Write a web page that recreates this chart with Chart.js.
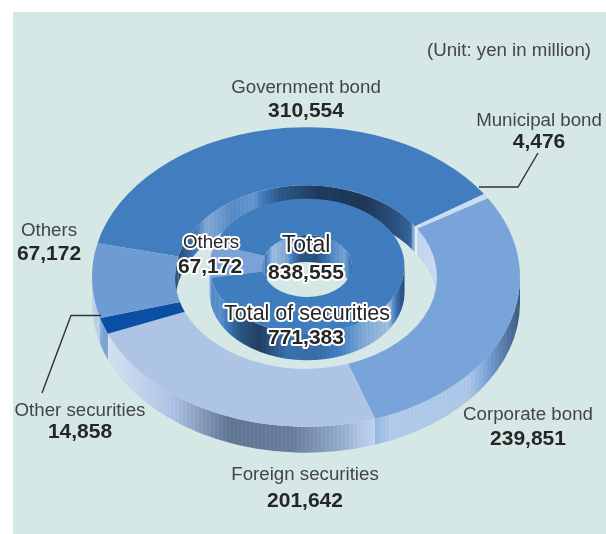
<!DOCTYPE html>
<html>
<head>
<meta charset="utf-8">
<title>Securities breakdown</title>
<script src="https://cdn.jsdelivr.net/npm/chart.js@4/dist/chart.umd.min.js"></script>
<style>
html,body{margin:0;padding:0;background:#fff;}
#wrap{position:relative;width:606px;height:534px;overflow:hidden;}
#panel{position:absolute;left:13px;top:12px;right:0;bottom:0;background:#d5e8e6;}
canvas{position:absolute;left:0;top:0;}
</style>
</head>
<body>
<div id="wrap">
  <div id="panel"></div>
  <canvas id="outerRing" width="606" height="534"></canvas>
  <canvas id="innerRing" width="606" height="534"></canvas>
</div>
<script>
// Outer ring: what the total is made of
const outerNames = ["Government bond","Municipal bond","Corporate bond","Foreign securities","Other securities","Others"];
const outerValues = [310554,4476,239851,201642,14858,67172];
const outerColors = ["#427dbf","#c8dcf2","#79a4d9","#aec4e5","#0a4fa5","#6e9bd2"];

// Inner ring: securities vs. the rest
const innerNames = ["Others","Total of securities"];
const innerValues = [67172,771383];
const innerColors = ["#7aa2d8","#3f7dbf"];
const totalValue = 838555;

const unitText = "(Unit: yen in million)";

// Metal look of the side walls, [position across the ring, lighten(+)/darken(-)]
const outerRimShade = [[0,.55],[.08,.35],[.2,-.05],[.32,-.5],[.47,-.45],[.6,-.1],[.7,.42],[.88,.38],[.94,-.15],[1,-.6]];
const outerHoleShade = [[0,-.7],[.05,-.3],[.12,.35],[.22,.1],[.3,.2],[.4,-.45],[.55,-.8],[.72,-.85],[.85,-.5],[.9,-.3],[.91,.5],[1,.6]];
const innerRimShade = [[0,.1],[.06,.15],[.16,-.5],[.26,-.75],[.4,-.15],[.55,-.2],[.68,.05],[.8,.35],[.92,.5],[.97,-.3],[1,-.6]];
const innerHoleShade = [[0,-.3],[.12,.5],[.28,.3],[.42,-.45],[.6,-.55],[.78,.1],[.92,.3],[1,-.2]];

const fmt = v => v.toLocaleString("en-US");

function hexToRgb(hex){
    const n = parseInt(hex.slice(1),16);
    return [n>>16,(n>>8)&255,n&255];
}

function shadeAt(profile,t){
    for(let i=1;i<profile.length;i++){
        if(t<=profile[i][0]){
            const [t0,s0]=profile[i-1], [t1,s1]=profile[i];
            return s0+(s1-s0)*(t-t0)/(t1-t0);
        }
    }
    return profile[profile.length-1][1];
}

// Vertical stripes across the wall, one band every 2px
function wallGradient(ctx,base,left,right,profile){
    const g = ctx.createLinearGradient(left,0,right,0);
    const rgb = hexToRgb(base), dark = [22,42,68];
    const steps = Math.round((right-left)/2);
    for(let i=0;i<=steps;i++){
        const t = i/steps;
        const s = shadeAt(profile,t)+(i%2?.035:-.035);
        const to = s>0?[255,255,255]:dark, a = Math.min(Math.abs(s),1);
        const c = rgb.map((v,k)=>Math.round(v+(to[k]-v)*a));
        g.addColorStop(t,`rgb(${c[0]},${c[1]},${c[2]})`);
    }
    return g;
}

// Fills the wall of one slice between the rim ellipse and the same ellipse lowered by depth
function drawWall(ctx,cx,cy,rx,ry,depth,a0,a1,fill){
    ctx.beginPath();
    ctx.ellipse(cx,cy,rx,ry,0,a0,a1);
    ctx.ellipse(cx,cy+depth,rx,ry,0,a1,a0,true);
    ctx.closePath();
    ctx.fillStyle=fill;
    ctx.fill();
}

function overlap(a0,a1,from,to){
    const parts=[];
    for(let k=-2;k<=2;k++){
        const s=Math.max(a0,from+k*Math.PI*2), e=Math.min(a1,to+k*Math.PI*2);
        if(e>s) parts.push([s,e]);
    }
    return parts;
}

// Squashes a doughnut into an ellipse and gives it a thickness
const ring3d = {
    id:"ring3d",
    beforeDatasetDraw(chart,args,opts){
        const ctx=chart.ctx, arcs=args.meta.data, colors=chart.data.datasets[args.index].backgroundColor;
        const {cx,cy,squash,depth}=opts;
        const rOut=arcs[0].outerRadius, rIn=arcs[0].innerRadius;
        // far wall of the hole first, near wall of the rim after it
        arcs.forEach((arc,i)=>{
            overlap(arc.startAngle,arc.endAngle,-Math.PI,0).forEach(([s,e])=>{
                drawWall(ctx,cx,cy,rIn,rIn*squash,depth,s,e,wallGradient(ctx,colors[i],cx-rIn,cx+rIn,opts.holeShade));
            });
        });
        arcs.forEach((arc,i)=>{
            overlap(arc.startAngle,arc.endAngle,0,Math.PI).forEach(([s,e])=>{
                drawWall(ctx,cx,cy,rOut,rOut*squash,depth,s,e,wallGradient(ctx,colors[i],cx-rOut,cx+rOut,opts.rimShade));
            });
        });
        ctx.save();
        ctx.translate(cx,cy);
        ctx.scale(1,squash);
        ctx.translate(-arcs[0].x,-arcs[0].y);
    },
    afterDatasetDraw(chart){
        chart.ctx.restore();
    }
};

function label(ctx,text,x,y,font,color,halo){
    ctx.font=font;
    ctx.textAlign="center";
    ctx.textBaseline="alphabetic";
    if(halo){
        ctx.lineJoin="round";
        ctx.lineWidth=4;
        ctx.strokeStyle="#fff";
        ctx.strokeText(text,x,y);
    }
    ctx.fillStyle=color;
    ctx.fillText(text,x,y);
}

// Leader lines, category names and values on top of the rings
const ringLabels = {
    id:"ringLabels",
    afterDraw(chart){
        const ctx=chart.ctx;
        const nameFont="18.7px 'Liberation Sans'", valueFont="bold 21px 'Liberation Sans'";
        const grey="#454545", black="#262626";
        ctx.save();
        ctx.strokeStyle="#333";
        ctx.lineWidth=1.4;
        ctx.beginPath();
        ctx.moveTo(479,187);ctx.lineTo(518,187);ctx.lineTo(538,153);
        ctx.moveTo(101,315.5);ctx.lineTo(71,315.5);ctx.lineTo(42,393);
        ctx.stroke();

        label(ctx,unitText,509,56,nameFont,grey);

        label(ctx,outerNames[0],306,93,nameFont,grey);
        label(ctx,fmt(outerValues[0]),306,117,valueFont,black);
        label(ctx,outerNames[1],539,126,nameFont,grey);
        label(ctx,fmt(outerValues[1]),539,148,valueFont,black);
        label(ctx,outerNames[2],528,420,nameFont,grey);
        label(ctx,fmt(outerValues[2]),528,445,valueFont,black);
        label(ctx,outerNames[3],305,480,nameFont,grey);
        label(ctx,fmt(outerValues[3]),305,507,valueFont,black);
        label(ctx,outerNames[4],80,416,nameFont,grey);
        label(ctx,fmt(outerValues[4]),80,438,valueFont,black);
        label(ctx,outerNames[5],49,236,nameFont,grey);
        label(ctx,fmt(outerValues[5]),49,260,valueFont,black);

        label(ctx,innerNames[0],211,248,"18.7px 'Liberation Sans'",black,true);
        label(ctx,fmt(innerValues[0]),210,273,valueFont,black,true);
        label(ctx,"Total",306,252,"23px 'Liberation Sans'",black,true);
        label(ctx,fmt(totalValue),306,279,valueFont,black,true);
        label(ctx,innerNames[1],307,320,"21.5px 'Liberation Sans'",black,true);
        label(ctx,fmt(innerValues[1]),306,344,valueFont,black,true);
        ctx.restore();
    }
};

function ringChart(id,names,values,colors,rotation,radius,cutout,ring,extra){
    return new Chart(document.getElementById(id),{
        type:"doughnut",
        data:{labels:names,datasets:[{data:values,backgroundColor:colors,borderWidth:0,clip:false}]},
        options:{
            responsive:false,
            animation:false,
            rotation:rotation,
            radius:radius,
            cutout:cutout,
            layout:{padding:0},
            plugins:{legend:{display:false},tooltip:{enabled:false},ring3d:ring}
        },
        plugins:extra
    });
}

ringChart("outerRing",outerNames,outerValues,outerColors,-77,214,"61.2%",
    {cx:306,cy:277,squash:.7,depth:26,rimShade:outerRimShade,holeShade:outerHoleShade},[ring3d]);
ringChart("innerRing",innerNames,innerValues,innerColors,260,97.5,"46.2%",
    {cx:307,cy:266,squash:.69,depth:27,rimShade:innerRimShade,holeShade:innerHoleShade},[ring3d,ringLabels]);
</script>
</body>
</html>
